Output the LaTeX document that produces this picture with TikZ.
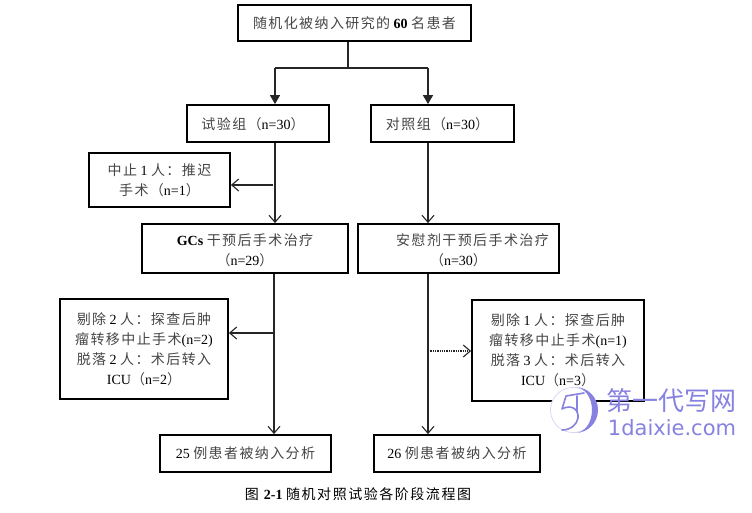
\documentclass[tikz,border=0pt]{standalone}
\usepackage{fontspec}
\setmainfont{Liberation Serif}
\newfontfamily\cjk[LetterSpace=10]{Noto Sans CJK SC}
\newfontfamily\cjkcap[LetterSpace=11]{Noto Sans CJK SC}
\newfontfamily\cjkwm{Noto Sans CJK SC}
\newfontfamily\wmlatin{DejaVu Sans}
\newcommand{\zh}[1]{{\cjk\color{zhgray}#1}}
\usetikzlibrary{arrows.meta}
\definecolor{zhgray}{RGB}{70,70,70}
\definecolor{wmblue}{RGB}{135,130,225}
\tikzset{
  flowbox/.style={draw=black,line width=1.8pt,fill=white,align=center,inner sep=0pt,
    font=\fontsize{14}{20}\selectfont},
  link/.style={line width=1.3pt,draw=black!85},
  solidtip/.style={link,-{Triangle[length=9pt,width=10pt]}},
  opentip/.style={link,-{Straight Barb[length=7pt,width=12pt,line width=1.1pt]}},
  dotlink/.style={opentip,densely dotted,line width=1.4pt},
  wmtext/.style={text=wmblue,inner sep=0pt},
  wmstroke/.style={draw=wmblue,line width=1.6pt,line cap=round,line join=round}
}
\begin{document}
\begin{tikzpicture}[x=1pt,y=-1pt]
\useasboundingbox (0,0) rectangle (752,512);
\fill[white] (0,0) rectangle (752,512);

\node[flowbox,minimum width=233pt,minimum height=36pt] (top) at (354.5,23) {\zh{随机化被纳入研究的} \textbf{60} \zh{名患者}};
\node[flowbox,minimum width=142pt,minimum height=37pt] (trial) at (258,123.5) {\rule{0pt}{13pt}\zh{试验组（}n=30\zh{）}\hspace{10pt}};
\node[flowbox,minimum width=143pt,minimum height=37pt] (ctrl) at (442.5,123.5) {\rule{0pt}{13pt}\zh{对照组（}n=30\zh{）}\hspace{10pt}};
\node[flowbox,minimum width=141pt,minimum height=54pt] (stop) at (159.5,180) {\zh{中止} 1 \zh{人：推迟}\\\zh{手术（}n=1\zh{）}};
\node[flowbox,minimum width=206pt,minimum height=49pt] (gcs) at (245,248.5) {\rule{0pt}{15pt}\textbf{GCs} \zh{干预后手术治疗}\\\zh{（}n=29\zh{）}};
\node[flowbox,minimum width=201pt,minimum height=49pt] (plc) at (458.5,248.5) {\rule{0pt}{15pt}\hspace{28pt}\zh{安慰剂干预后手术治疗}\\\zh{（}n=30\zh{）}};
\node[flowbox,minimum width=168pt,minimum height=100pt] (excl) at (144,349) {\zh{剔除} 2 \zh{人：探查后肿}\\\zh{瘤转移中止手术}(n=2)\\\zh{脱落} 2 \zh{人：术后转入}\\ICU\zh{（}n=2\zh{）}};
\node[flowbox,minimum width=172pt,minimum height=101pt] (excr) at (558,350.5) {\zh{剔除} 1 \zh{人：探查后肿}\\\zh{瘤转移中止手术}(n=1)\\\zh{脱落} 3 \zh{人：术后转入}\\ICU\zh{（}n=3\zh{）}};
\node[flowbox,minimum width=171pt,minimum height=37pt] (resl) at (245.5,453.5) {25 \zh{例患者被纳入分析}};
\node[flowbox,minimum width=166pt,minimum height=37pt] (resr) at (457,453.5) {26 \zh{例患者被纳入分析}};

\coordinate (split) at (348,68);
\coordinate (lx) at (275,68);
\coordinate (rx) at (428,68);
\coordinate (lb1) at (273,185);
\coordinate (lb2) at (274,333);
\coordinate (rb) at (428,351);

\draw[link] (top.south -| split) -- (split);
\draw[link] (lx) -- (rx);
\draw[solidtip] (lx) -- (trial.north -| lx);
\draw[solidtip] (rx) -- (ctrl.north -| rx);
\draw[opentip] (trial.south -| lx) -- (gcs.north -| lx);
\draw[opentip] (ctrl.south -| rx) -- (plc.north -| rx);
\draw[opentip] (lb1) -- (stop.east |- lb1);
\draw[opentip] (gcs.south -| lb2) -- (resl.north -| lb2);
\draw[opentip] (plc.south -| rb) -- (resr.north -| rb);
\draw[opentip] (lb2) -- (excl.east |- lb2);
\draw[dotlink] (rb) -- (excr.west |- rb);

\node[font=\fontsize{14}{16}\selectfont] (cap) at (358,494) {{\cjkcap 图} \textbf{2-1} {\cjkcap 随机对照试验各阶段流程图}};

% watermark
\fill[white] (573,410) circle (23pt);
\draw[wmblue!40,line width=.6pt] (573,410) circle (22.5pt);
\fill[wmblue] (575,387) arc (-90:90:23) arc (90:-90:17 and 23);
\draw[wmstroke] (584,393) -- (566,396) -- (562,409) .. controls (571,404) and (579,409) .. (578,418) .. controls (577,425) and (570,430) .. (562,430);
\draw[wmstroke] (577,396) -- (577,412);
\node[wmtext,font=\fontsize{26}{26}\selectfont\cjkwm] (wmzh) at (671,401) {第一代写网};
\node[wmtext,font=\fontsize{21}{21}\selectfont\wmlatin] (wmen) at (672,428) {1daixie.com};
\end{tikzpicture}
\end{document}
